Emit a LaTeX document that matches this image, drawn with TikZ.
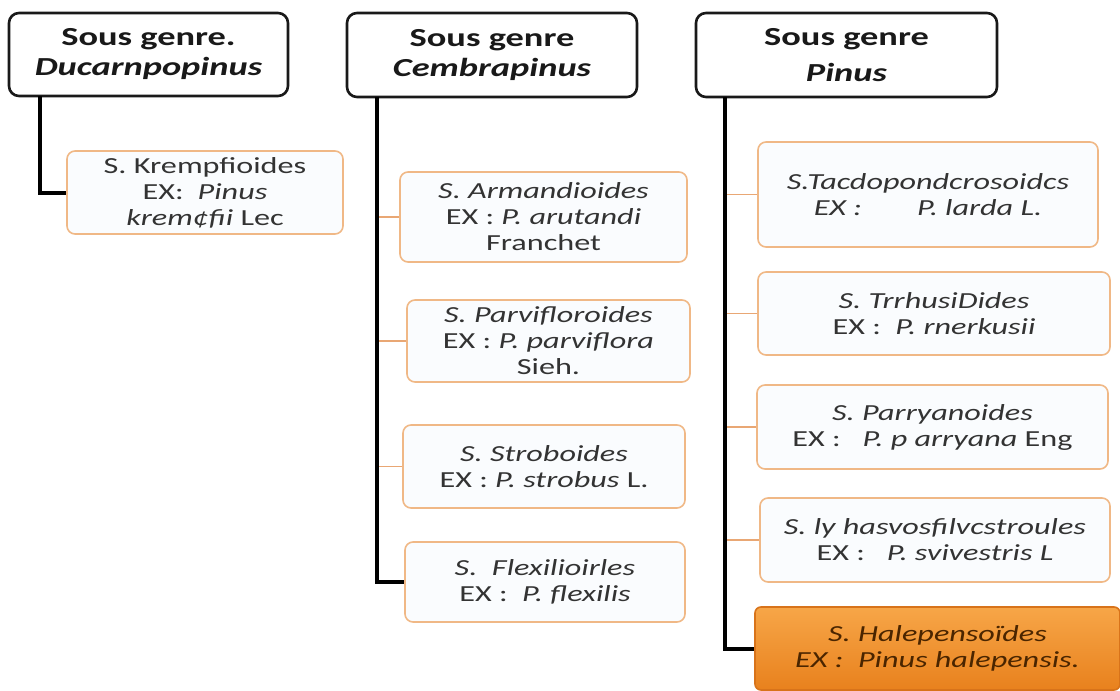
\documentclass[tikz,border=0pt]{standalone}
\usepackage{fontspec}
\setmainfont{Carlito}[FakeStretch=1.4]
\usepackage{tikz}
\usetikzlibrary{positioning}

\definecolor{leafline}{HTML}{F0B886}
\definecolor{leaffill}{HTML}{FAFCFE}
\definecolor{leaftext}{HTML}{333333}
\definecolor{twigline}{HTML}{E9A774}
\definecolor{halepT}{HTML}{F7A648}
\definecolor{halepB}{HTML}{E8811D}
\definecolor{halepline}{HTML}{D8731A}
\definecolor{halepfont}{HTML}{4A2500}

\begin{document}
\begin{tikzpicture}[x=1pt, y=-1pt,
  genre/.style={rounded corners=10pt, draw=black!90, line width=2.6pt,
    fill=white, align=center, inner sep=2pt,
    font=\fontsize{26}{30}\selectfont\bfseries, text=black!90},
  leaf/.style={rounded corners=8pt, draw=leafline, line width=1.6pt, fill=leaffill,
    align=center, inner sep=2pt, font=\fontsize{23}{26}\selectfont, text=leaftext},
  leafmain/.style={rounded corners=6pt, draw=halepline, line width=1.6pt,
    top color=halepT, bottom color=halepB, align=center, inner sep=2pt,
    font=\fontsize{23}{26}\selectfont\itshape, text=halepfont},
  trunk/.style={draw=black, line width=4pt},
  twig/.style={draw=twigline, line width=1.5pt}
]
\useasboundingbox (0,0) rectangle (1120,691);
% sous genres
\node[genre, minimum width=279pt, minimum height=83pt] (ducarn) at (148.5,54.5)
  {Sous genre.\\\textit{Ducarnpopinus}};
\node[genre, minimum width=290pt, minimum height=84pt] (cembra) at (492,55)
  {Sous genre\\\textit{Cembrapinus}};
\node[genre, minimum width=301pt, minimum height=84pt] (pinus) at (846.5,55)
  {Sous genre\\[6pt]\textit{Pinus}};
% sections
\node[leaf, minimum width=276pt, minimum height=83pt] (kremp) at (205,192.5)
  {S. Krempfioides\\EX:\hspace{14pt}\textit{Pinus}\\\textit{krem¢fii} Lec};
\node[leaf, minimum width=287pt, minimum height=90pt] (armand) at (543.5,217)
  {\textit{S. Armandioides}\\EX : \textit{P. arutandi}\\Franchet};
\node[leaf, minimum width=283pt, minimum height=82pt] (parvi) at (548.5,341)
  {\textit{S. Parvifloroides}\\EX : \textit{P. parviflora}\\Sieh.};
\node[leaf, minimum width=282pt, minimum height=83pt] (strob) at (544,466.5)
  {\textit{S. Stroboides}\\EX : \textit{P. strobus} L.};
\node[leaf, minimum width=280pt, minimum height=80pt] (flexi) at (545,582)
  {\textit{S.\ \ Flexilioirles}\\EX :\ \ \textit{P. flexilis}};
\node[leaf, minimum width=340pt, minimum height=105pt] (tacdo) at (928,194.5)
  {\textit{S.Tacdopondcrosoidcs}\\\textit{EX :\hspace{55pt}P. larda L.}};
\node[leaf, minimum width=352pt, minimum height=83pt] (trrhu) at (934,313.5)
  {\textit{S. TrrhusiDides}\\EX :\ \ \textit{P. rnerkusii}};
\node[leaf, minimum width=351pt, minimum height=84pt] (parry) at (932.5,427)
  {\textit{S. Parryanoides}\\EX :\ \ \ \textit{P. p arryana} Eng};
\node[leaf, minimum width=350pt, minimum height=84pt] (lyhas) at (935,540)
  {\textit{S. ly hasvosfilvcstroules}\\EX :\ \ \ \textit{P. svivestris L}};
\node[leafmain, minimum width=365pt, minimum height=83pt] (halep) at (937.5,648.5)
  {S. Halepensoïdes\\EX :\ \ Pinus halepensis.};
% trunks
\coordinate (ducarnT) at (40,96);
\coordinate (cembraT) at (377,97);
\coordinate (pinusT) at (725,97);
\draw[twig] (armand.west -| cembraT) -- (armand.west);
\draw[twig] (parvi.west -| cembraT) -- (parvi.west);
\draw[twig] (strob.west -| cembraT) -- (strob.west);
\draw[twig] (tacdo.west -| pinusT) -- (tacdo.west);
\draw[twig] (trrhu.west -| pinusT) -- (trrhu.west);
\draw[twig] (parry.west -| pinusT) -- (parry.west);
\draw[twig] (lyhas.west -| pinusT) -- (lyhas.west);
\draw[trunk] (ducarnT) |- (kremp.west);
\draw[trunk] (cembraT) |- (flexi.west);
\draw[trunk] (pinusT) |- (halep.west);
\end{tikzpicture}
\end{document}
